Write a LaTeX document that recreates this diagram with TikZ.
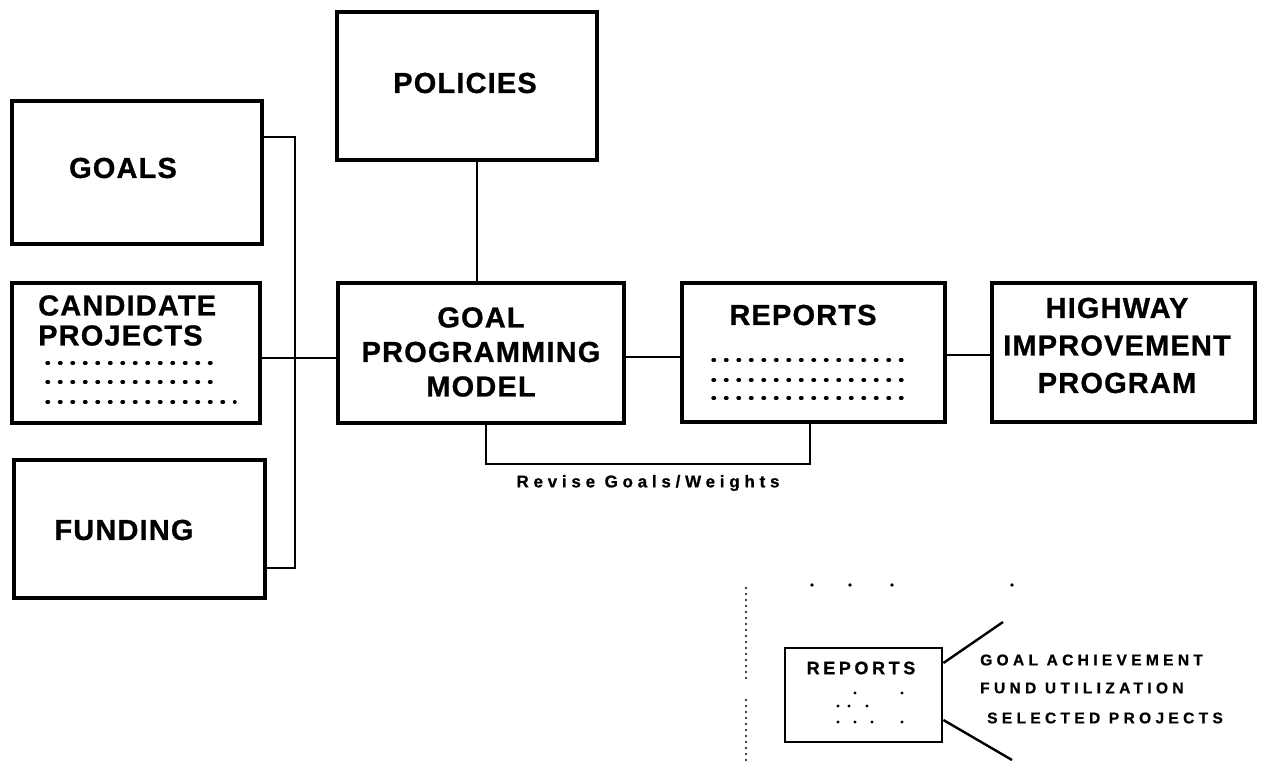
\documentclass[tikz,border=0pt]{standalone}
\usepackage{fontspec}
\setmainfont{Liberation Sans}[BoldFeatures={FakeBold=0.8}]
\begin{document}
\begin{tikzpicture}[x=1pt,y=-1pt,
  box/.style={draw, rectangle, line width=3.2pt, inner sep=0pt},
  conn/.style={line width=2.4pt},
  big/.style={font=\fontsize{29}{33}\selectfont\bfseries\addfontfeature{LetterSpace=4}, inner sep=0pt},
  small/.style={font=\fontsize{15.5}{17}\selectfont\bfseries\addfontfeature{LetterSpace=28}, inner sep=0pt, anchor=west},
  dotrow/.style={line width=3.4pt, line cap=round, dash pattern=on 1.5pt off 11pt},
  vdots/.style={line width=2.4pt, line cap=round, dash pattern=on 0pt off 6pt},
  speck/.style={fill=black, draw=none}]
\useasboundingbox (0,0) rectangle (1262,762);

% boxes
\node[box, minimum width=250pt, minimum height=143pt] (goals) at (137,172.5) {};
\node[box, minimum width=248pt, minimum height=140pt] (cand) at (136,353) {};
\node[box, minimum width=251pt, minimum height=138pt] (funding) at (139.5,529) {};
\node[box, minimum width=260pt, minimum height=148pt] (policies) at (467,86) {};
\node[box, minimum width=286pt, minimum height=140pt] (gpm) at (481,353) {};
\node[box, minimum width=263pt, minimum height=139pt] (reports) at (813.5,352.5) {};
\node[box, minimum width=263pt, minimum height=139pt] (highway) at (1123.5,352.5) {};
\node[box, line width=2.8pt, minimum width=157pt, minimum height=94pt] (rsmall) at (863.5,695) {};

% texts
\node[big] (tgoals) at (123,168) {GOALS};
\node[big, align=left, anchor=west, font=\fontsize{29}{30}\selectfont\bfseries\addfontfeature{LetterSpace=4}] (tcand) at (38,320.5) {CANDIDATE\\PROJECTS};
\node[big] (tfunding) at (124,530) {FUNDING};
\node[big] (tpolicies) at (465,83) {POLICIES};
\node[big, align=center, font=\fontsize{29}{34.5}\selectfont\bfseries\addfontfeature{LetterSpace=4}] (tgpm) at (481,352) {GOAL\\PROGRAMMING\\MODEL};
\node[big] (treports) at (803,315) {REPORTS};
\node[big, align=center, font=\fontsize{29}{37.5}\selectfont\bfseries\addfontfeature{LetterSpace=4}] (thighway) at (1117,345.5) {HIGHWAY\\IMPROVEMENT\\PROGRAM};
\node[inner sep=0pt, font=\fontsize{17}{19}\selectfont\bfseries\addfontfeature{LetterSpace=28}] (trevise) at (648,483) {Revise Goals/Weights};
\node[inner sep=0pt, font=\fontsize{18}{20}\selectfont\bfseries\addfontfeature{LetterSpace=20}] (tsreports) at (861,668) {REPORTS};
\node[small] (tach) at (980,660) {GOAL ACHIEVEMENT};
\node[small] (tfund) at (980,688) {FUND UTILIZATION};
\node[small] (tsel) at (987,718) {SELECTED PROJECTS};

% dotted rows in boxes
\draw[dotrow] (47,363) -- (222,363);
\draw[dotrow] (47,382) -- (222,382);
\draw[dotrow] (47,402) -- (235,402);
\draw[dotrow] (713,360) -- (910,360);
\draw[dotrow] (713,380) -- (910,380);
\draw[dotrow] (713,398) -- (910,398);

% helper coordinates
\coordinate (g1) at (295,137);
\coordinate (f1) at (295,568);
\coordinate (c1) at (295,358);
\coordinate (p1) at (477,0);
\coordinate (m1) at (650,357);
\coordinate (h1) at (970,355);
\coordinate (r1) at (486,464);
\coordinate (r2) at (810,464);
\coordinate (sa) at (0,663);
\coordinate (sb) at (1003,622);
\coordinate (sc) at (0,720);
\coordinate (sd) at (1012,760);

% connectors
\draw[conn] (g1 -| goals.east) -- (g1) -- (f1) -- (f1 -| funding.east);
\draw[conn] (c1 -| cand.east) -- (c1 -| gpm.west);
\draw[conn] (p1 |- policies.south) -- (p1 |- gpm.north);
\draw[conn] (m1 -| gpm.east) -- (m1 -| reports.west);
\draw[conn] (h1 -| reports.east) -- (h1 -| highway.west);
\draw[conn] (r1 |- gpm.south) -- (r1) -- (r2) -- (r2 |- reports.south);
\draw[conn] (sa -| rsmall.east) -- (sb);
\draw[conn] (sc -| rsmall.east) -- (sd);

% dotted vertical line and specks
\draw[vdots] (746,588) -- (746,682);
\draw[vdots] (746,700) -- (746,760);
\foreach \p in {(812,585),(850,585),(892,585),(1012,585)} \fill[speck] \p circle (1.8pt);
\foreach \p in {(855,693),(902,693),(838,706),(849,706),(867,706),(838,722),(855,722),(872,722),(902,722)} \fill[speck] \p circle (1.6pt);
\end{tikzpicture}
\end{document}
